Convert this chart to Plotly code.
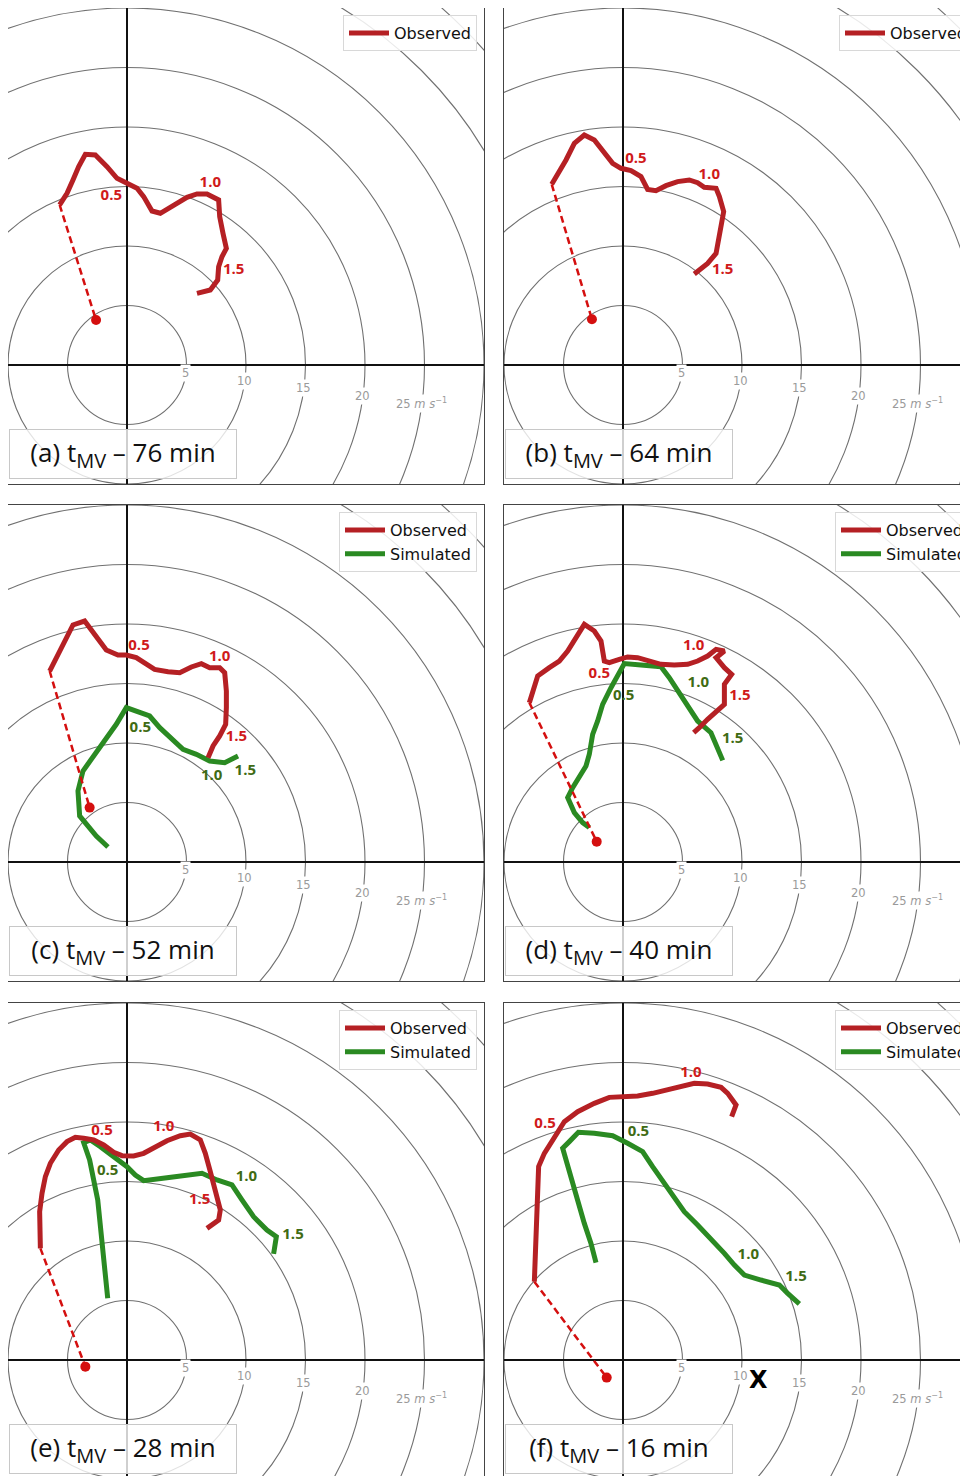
import math
import plotly.graph_objects as go

# page is rendered with the default 8px body margin -> figure covers page px 8..968
PAGE_OFF = 8
FIG_W, FIG_H = 968 - PAGE_OFF, 1476 - PAGE_OFF
PX_PER_UNIT = 11.9

# ---------------- data (u, v components, m/s) ----------------
panel_letters = ["a", "b", "c", "d", "e", "f"]
panel_minutes = [76, 64, 52, 40, 28, 16]
height_labels = ["0.5", "1.0", "1.5"]
ring_radii = [5, 10, 15, 20, 25, 30, 35, 40]
ring_labelled = [5, 10, 15, 20, 25]

# (a) observed
obs_a_u = [-5.66, -5.04, -4.54, -4.06, -3.50, -2.66, -1.68, -0.84, 0.00, 0.84, 1.40, 2.10, 2.80, 3.92, 5.04, 5.88, 6.72, 7.70, 7.79, 8.07, 8.35, 7.98, 7.70, 7.62, 7.00, 5.88]
obs_a_v = [13.45, 14.43, 15.55, 16.67, 17.70, 17.65, 16.67, 15.69, 15.27, 14.85, 14.15, 12.94, 12.75, 13.45, 14.09, 14.37, 14.37, 13.87, 12.46, 11.06, 9.80, 9.10, 8.26, 7.14, 6.30, 6.02]
# (b) observed
obs_b_u = [-5.99, -5.35, -4.79, -4.09, -3.25, -2.41, -1.57, -0.87, -0.17, 0.67, 1.51, 2.07, 2.77, 3.61, 4.59, 5.57, 6.27, 6.83, 7.82, 8.10, 8.46, 8.24, 8.10, 7.82, 7.11, 5.99]
obs_b_v = [15.18, 16.25, 17.23, 18.63, 19.33, 18.91, 17.79, 16.95, 16.53, 16.33, 15.83, 14.76, 14.65, 15.07, 15.41, 15.55, 15.32, 14.93, 14.85, 14.15, 12.89, 11.62, 10.50, 9.38, 8.54, 7.65]
# (c) observed / simulated
obs_c_u = [-6.50, -5.94, -5.24, -4.54, -3.56, -2.58, -1.74, -0.76, -0.06, 0.78, 1.48, 2.32, 3.45, 4.43, 5.41, 6.25, 6.95, 7.79, 8.21, 8.35, 8.35, 8.29, 7.79, 7.23, 6.81]
obs_c_v = [16.05, 17.17, 18.43, 19.92, 20.25, 18.85, 17.82, 17.39, 17.39, 17.17, 16.75, 16.19, 15.99, 15.91, 16.39, 16.67, 16.33, 16.33, 15.91, 14.37, 12.97, 11.57, 10.59, 9.75, 8.77]
sim_c_u = [-1.60, -2.58, -3.98, -4.12, -3.70, -3.00, -2.30, -1.60, -0.90, -0.06, 0.78, 1.90, 2.75, 3.73, 4.71, 5.83, 6.95, 8.21, 9.33]
sim_c_v = [1.26, 2.18, 3.87, 5.97, 7.65, 8.63, 9.61, 10.45, 11.57, 12.97, 12.69, 12.27, 11.29, 10.31, 9.47, 9.05, 8.49, 8.35, 8.91]
# (d) observed / simulated
obs_d_u = [-7.87, -7.17, -6.19, -5.35, -4.65, -3.95, -3.25, -2.41, -1.85, -1.57, -1.15, -0.31, 0.39, 1.23, 2.07, 3.19, 4.31, 5.43, 6.27, 7.11, 7.82, 8.52, 7.82, 8.52, 9.13, 8.52, 8.52, 7.82, 7.11, 6.41, 5.94]
obs_d_v = [13.39, 15.63, 16.33, 16.89, 17.73, 18.85, 19.97, 19.41, 18.57, 16.89, 16.75, 17.03, 17.23, 17.17, 16.89, 16.61, 16.55, 16.61, 16.89, 17.31, 17.87, 17.73, 17.17, 16.33, 15.77, 14.93, 13.25, 12.69, 11.99, 11.29, 10.87]
sim_d_u = [-2.83, -3.39, -4.09, -4.65, -4.23, -3.67, -3.11, -2.83, -2.55, -2.13, -1.71, -1.01, -0.45, 0.11, 1.51, 3.19, 3.89, 4.59, 5.43, 6.27, 7.39, 7.82, 8.38]
sim_d_v = [2.89, 3.31, 4.15, 5.41, 6.25, 7.23, 8.07, 9.05, 10.73, 11.85, 13.25, 14.65, 15.63, 16.67, 16.55, 16.41, 15.49, 14.37, 13.11, 11.85, 10.87, 9.89, 8.54]
# (e) observed / simulated
obs_e_u = [-7.28, -7.34, -7.14, -6.86, -6.44, -5.74, -5.04, -4.34, -3.64, -2.80, -1.96, -1.12, -0.42, 0.56, 1.40, 2.52, 3.36, 4.48, 5.32, 6.16, 6.58, 7.00, 7.42, 7.84, 7.70, 7.28, 6.72]
obs_e_v = [9.38, 12.46, 14.01, 15.41, 16.53, 17.65, 18.35, 18.71, 18.63, 18.49, 18.07, 17.45, 17.17, 17.14, 17.37, 17.93, 18.43, 18.85, 18.99, 18.49, 17.37, 15.83, 14.29, 12.61, 11.76, 11.48, 11.06]
sim_e_u = [-1.62, -1.82, -2.10, -2.30, -2.46, -2.80, -3.14, -3.64, -3.08, -2.24, -1.12, 0.00, 0.70, 1.40, 3.36, 5.04, 6.30, 7.56, 8.82, 9.66, 10.64, 11.76, 12.55, 12.32]
sim_e_v = [5.18, 7.00, 9.80, 11.48, 13.45, 15.13, 16.81, 18.26, 18.49, 17.93, 17.09, 16.25, 15.55, 15.07, 15.32, 15.55, 15.69, 15.13, 14.71, 13.45, 12.04, 10.92, 10.36, 8.91]
# (f) observed / simulated
obs_f_u = [-7.45, -7.31, -7.23, -7.17, -7.09, -6.61, -5.91, -4.93, -3.81, -2.41, -1.15, -0.03, 1.23, 2.49, 3.75, 4.87, 5.99, 7.11, 8.24, 8.80, 9.50, 9.13]
obs_f_v = [6.58, 9.52, 11.48, 14.29, 16.25, 17.37, 18.49, 20.03, 20.87, 21.57, 22.07, 22.13, 22.18, 22.41, 22.75, 23.03, 23.25, 23.19, 22.91, 22.41, 21.43, 20.45]
sim_f_u = [-2.27, -2.69, -3.25, -3.81, -4.37, -4.79, -5.07, -4.51, -3.75, -2.41, -0.87, 0.39, 1.65, 2.49, 3.47, 4.31, 5.15, 6.27, 7.39, 8.52, 9.36, 10.20, 11.60, 13.14, 13.84, 14.82]
sim_f_v = [8.18, 9.80, 11.48, 13.45, 15.41, 17.09, 17.79, 18.35, 19.13, 19.05, 18.85, 18.21, 17.51, 16.25, 14.85, 13.59, 12.46, 11.34, 10.22, 8.96, 7.98, 7.14, 6.72, 6.30, 5.60, 4.71]

# storm motion (dot) per panel
storm_u = [-2.60, -2.61, -3.14, -2.21, -3.50, -1.37]
storm_v = [3.78, 3.84, 4.57, 1.71, -0.56, -1.48]

# height-label anchor positions (km AGL labels)
obs_lab_u = [[-1.32, 7.00, 8.96], [1.09, 7.25, 8.38], [1.01, 7.79, 9.19], [-1.99, 5.94, 9.83], [-2.10, 3.08, 6.11], [-6.55, 5.71]]
obs_lab_v = [[14.15, 15.27, 7.93], [17.28, 15.97, 7.93], [18.15, 17.23, 10.45], [15.77, 18.15, 13.95], [19.19, 19.55, 13.39], [19.83, 24.09]]
sim_lab_u = [None, None, [1.12, 7.11, 9.94], [0.06, 6.33, 9.22], [-1.62, 10.03, 13.95], [1.29, 10.53, 14.54]]
sim_lab_v = [None, None, [11.23, 7.23, 7.59], [13.95, 15.01, 10.31], [15.83, 15.35, 10.45], [19.10, 8.77, 6.95]]

# "X" marker in panel (f)
x_mark_u = 11.37
x_mark_v = -1.68

obs_u = [obs_a_u, obs_b_u, obs_c_u, obs_d_u, obs_e_u, obs_f_u]
obs_v = [obs_a_v, obs_b_v, obs_c_v, obs_d_v, obs_e_v, obs_f_v]
sim_u = [None, None, sim_c_u, sim_d_u, sim_e_u, sim_f_u]
sim_v = [None, None, sim_c_v, sim_d_v, sim_e_v, sim_f_v]

# ---------------- styling ----------------
RED = "#b52024"
RED_TXT = "#d01a1a"
RED_DOT = "#d40f0f"
GREEN = "#2a8a22"
GREEN_TXT = "#3f6b14"
RING = "#707070"

# panel frames in page pixels
col_px = [(8, 484), (504, 968)]
row_px = [(8, 484), (505, 981), (1003, 1476)]

fig = go.Figure()
shapes = []
annotations = []
layout_axes = {}

for i, letter in enumerate(panel_letters):
    n = i + 1
    col, row = i % 2, i // 2
    L, R = [p - PAGE_OFF for p in col_px[col]]
    T, B = [p - PAGE_OFF for p in row_px[row]]
    xa = "x" if n == 1 else f"x{n}"
    ya = "y" if n == 1 else f"y{n}"
    xkey = "xaxis" if n == 1 else f"xaxis{n}"
    ykey = "yaxis" if n == 1 else f"yaxis{n}"
    leg = "legend" if n == 1 else f"legend{n}"

    xr = [-10, -10 + (R - L) / PX_PER_UNIT]
    yr = [30 - (B - T) / PX_PER_UNIT, 30]

    common = dict(showgrid=False, zeroline=True, zerolinecolor="#111", zerolinewidth=1.6,
                  showticklabels=False, ticks="", showline=True, linecolor="#444",
                  linewidth=1, fixedrange=True)
    layout_axes[xkey] = dict(common, domain=[L / FIG_W, R / FIG_W], range=xr, anchor=ya,
                             side="top" if row == 2 else "bottom",
                             mirror=(row != 2))
    layout_axes[ykey] = dict(common, domain=[1 - B / FIG_H, 1 - T / FIG_H], range=yr, anchor=xa,
                             mirror=(col == 0))

    # rings
    for r in ring_radii:
        shapes.append(dict(type="circle", xref=xa, yref=ya, x0=-r, x1=r, y0=-r, y1=r,
                           line=dict(color=RING, width=1.1), layer="below"))
    ang = math.radians(-7.5)
    for r in ring_labelled:
        txt = str(r) if r != ring_labelled[-1] else f"{r} <i>m s</i><sup>−1</sup>"
        annotations.append(dict(xref=xa, yref=ya, x=r * math.cos(ang), y=r * math.sin(ang),
                                text=txt, showarrow=False, bgcolor="white", borderpad=1,
                                font=dict(family="DejaVu Sans", size=11.5, color="#9a9a9a"),
                                xanchor="center", yanchor="middle"))

    # simulated
    if sim_u[i] is not None:
        fig.add_trace(go.Scatter(x=sim_u[i], y=sim_v[i], mode="lines", name="Simulated",
                                 line=dict(color=GREEN, width=5), xaxis=xa, yaxis=ya,
                                 legend=leg, legendrank=2, hoverinfo="skip"))
    # observed
    fig.add_trace(go.Scatter(x=obs_u[i], y=obs_v[i], mode="lines", name="Observed",
                             line=dict(color=RED, width=5), xaxis=xa, yaxis=ya,
                             legend=leg, legendrank=1, hoverinfo="skip"))
    # dashed line to storm motion
    fig.add_trace(go.Scatter(x=[obs_u[i][0], storm_u[i]], y=[obs_v[i][0], storm_v[i]],
                             mode="lines", line=dict(color=RED_DOT, width=2.5, dash="7px,4px"),
                             xaxis=xa, yaxis=ya, showlegend=False, hoverinfo="skip"))
    fig.add_trace(go.Scatter(x=[storm_u[i]], y=[storm_v[i]], mode="markers",
                             marker=dict(color=RED_DOT, size=10), xaxis=xa, yaxis=ya,
                             showlegend=False, hoverinfo="skip"))
    # height labels
    fig.add_trace(go.Scatter(x=obs_lab_u[i], y=obs_lab_v[i], mode="text",
                             text=[f"<b>{t}</b>" for t in height_labels[:len(obs_lab_u[i])]],
                             textfont=dict(family="Open Sans", size=15, color=RED_TXT),
                             xaxis=xa, yaxis=ya, showlegend=False, hoverinfo="skip"))
    if sim_lab_u[i] is not None:
        fig.add_trace(go.Scatter(x=sim_lab_u[i], y=sim_lab_v[i], mode="text",
                                 text=[f"<b>{t}</b>" for t in height_labels[:len(sim_lab_u[i])]],
                                 textfont=dict(family="Open Sans", size=15, color=GREEN_TXT),
                                 xaxis=xa, yaxis=ya, showlegend=False, hoverinfo="skip"))

    # legend box
    layout_axes[leg] = dict(x=(L + 469) / FIG_W, y=1 - (T + 7) / FIG_H, xanchor="right",
                            yanchor="top", xref="paper", yref="paper",
                            bgcolor="rgba(255,255,255,0.85)", bordercolor="#d8d8d8",
                            borderwidth=1, font=dict(family="DejaVu Sans", size=16, color="#111"),
                            itemwidth=40, tracegroupgap=0)

    # panel title
    annotations.append(dict(xref="paper", yref="paper", x=(L + 1) / FIG_W,
                            y=1 - (T + 471) / FIG_H, xanchor="left", yanchor="bottom",
                            text=(f"({letter}) t<sub><span style='font-size:20px'>MV</span></sub>"
                                  f" – {panel_minutes[i]} min"),
                            showarrow=False, align="center", width=220, height=42,
                            borderpad=3, bgcolor="rgba(255,255,255,0.8)",
                            bordercolor="#c8c8c8", borderwidth=1,
                            font=dict(family="Open Sans", size=26, color="#111")))

    if letter == "f":
        annotations.append(dict(xref=xa, yref=ya, x=x_mark_u, y=x_mark_v, text="<b>X</b>",
                                showarrow=False, font=dict(family="DejaVu Sans", size=24,
                                                           color="black")))

fig.update_layout(
    width=FIG_W, height=FIG_H,
    margin=dict(l=0, r=0, t=0, b=0, autoexpand=False),
    paper_bgcolor="white", plot_bgcolor="white",
    shapes=shapes, annotations=annotations,
    **layout_axes,
)

fig.write_html("out.html")
